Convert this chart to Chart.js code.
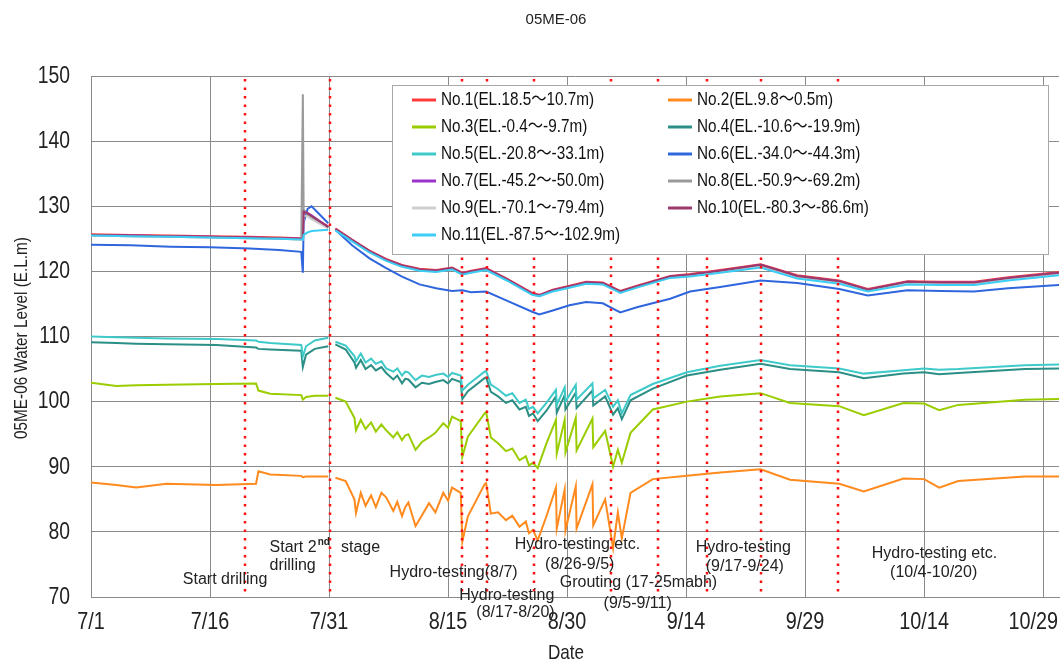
<!DOCTYPE html>
<html>
<head>
<meta charset="utf-8">
<script src="https://cdn.jsdelivr.net/npm/chart.js@4"></script>
<style>
  html, body { margin: 0; padding: 0; background: #fff; }
</style>
</head>
<body>
<canvas id="graf" width="1062" height="665"></canvas>
<script>
// osa x: dny od 7/1
const tickDays = [0, 15, 30, 45, 60, 75, 90, 105, 120];
const tickLabels = ['7/1', '7/16', '7/31', '8/15', '8/30', '9/14', '9/29', '10/14', '10/29'];
const yTicks = [70, 80, 90, 100, 110, 120, 130, 140, 150];

// svislé tečkované čáry (události)
const eventDays = [19.4, 30.1, 46.8, 49.9, 55.8, 65.6, 71.4, 77.6, 84.5, 94.2];

const labels = [
  'No.1(EL.18.5～10.7m)', 'No.2(EL.9.8～0.5m)', 'No.3(EL.-0.4～-9.7m)',
  'No.4(EL.-10.6～-19.9m)', 'No.5(EL.-20.8～-33.1m)', 'No.6(EL.-34.0～-44.3m)',
  'No.7(EL.-45.2～-50.0m)', 'No.8(EL.-50.9～-69.2m)', 'No.9(EL.-70.1～-79.4m)',
  'No.10(EL.-80.3～-86.6m)', 'No.11(EL.-87.5～-102.9m)'
];
const colors = ['#ff3b3b', '#ff8a1e', '#9acd00', '#2b8f86', '#3fcaca', '#2f66dd',
  '#9b33c8', '#9a9a9a', '#cfcfcf', '#9a3a6a', '#3ccdf5'];

// horní skupina (No.1, 6, 7, 8, 9, 10, 11)
const daysA = [0, 5, 10, 15, 20,  23.7, 26.5, 26.7, 26.8, 27.3,  27.8, 29.9, 30.3, 30.8, 32.9,
  35.1, 37.2, 39.2, 41.4, 43.5,  45.5, 46.8, 47.9, 49.8, 52.4,  55.6, 56.5, 58.2, 60.3, 62.4,
  64.5, 66.7, 68.8, 73, 75.5,  79.3, 84.4, 89, 94.3, 97.9,  102.9, 107.1, 111.3, 115.6, 122];

const no10 = [125.6, 125.5, 125.4, 125.3, 125.2,  125.1, 125.0, 125.0, 129.2, 128.9,  128.5, 126.8, null, 126.5, 124.8,
  123.1, 121.8, 120.9, 120.3, 120.1,  120.5, 119.7, 120.0, 120.4, 118.8,  116.6, 116.3, 117.1, 117.7, 118.3,
  118.2, 116.9, 117.7, 119.2, 119.5,  120.1, 121.0, 119.3, 118.5, 117.2,  118.4, 118.3, 118.3, 119.0, 119.8];
const no1 = [125.7, 125.6, 125.5, 125.4, 125.3,  125.2, 125.1, 125.1, 129.0, 128.8,  128.4, 126.9, null, 126.6, 124.9,
  123.2, 121.9, 121.0, 120.4, 120.2,  120.6, 119.8, 120.1, 120.5, 118.9,  116.7, 116.4, 117.2, 117.8, 118.4,
  118.3, 117.0, 117.8, 119.3, 119.6,  120.2, 121.1, 119.4, 118.6, 117.3,  118.5, 118.4, 118.4, 119.1, 119.9];
const no7 = [125.6, 125.5, 125.4, 125.3, 125.2,  125.1, 125.0, 125.0, 129.3, 129.0,  128.6, 126.8, null, 126.5, 124.8,
  123.1, 121.8, 120.9, 120.3, 120.1,  120.5, 119.7, 120.0, 120.4, 118.8,  116.6, 116.3, 117.1, 117.7, 118.3,
  118.2, 116.9, 117.7, 119.2, 119.5,  120.1, 121.0, 119.3, 118.5, 117.2,  118.4, 118.3, 118.3, 119.0, 119.8];
const no8 = [125.5, 125.4, 125.3, 125.2, 125.1,  125.0, 124.9, 147.2, 129.5, 128.7,  128.3, 126.7, null, 126.4, 124.7,
  123.0, 121.7, 120.8, 120.2, 120.0,  120.4, 119.6, 119.9, 120.3, 118.7,  116.5, 116.2, 117.0, 117.6, 118.2,
  118.1, 116.8, 117.6, 119.1, 119.4,  120.0, 120.9, 119.2, 118.4, 117.1,  118.3, 118.2, 118.2, 118.9, 119.7];
const no9 = [125.5, 125.4, 125.3, 125.2, 125.1,  125.0, 124.9, 124.9, 128.6, 128.4,  128.0, 126.6, null, 126.4, 124.7,
  123.0, 121.7, 120.8, 120.2, 120.0,  120.4, 119.6, 119.9, 120.3, 118.7,  116.5, 116.2, 117.0, 117.6, 118.2,
  118.1, 116.8, 117.6, 119.1, 119.4,  120.0, 120.9, 119.2, 118.4, 117.1,  118.3, 118.2, 118.2, 118.9, 119.7];
const no11 = [125.5, 125.4, 125.3, 125.2, 125.1,  125.0, 124.9, 124.9, 125.6, 126.0,  126.2, 126.4, null, 126.3, 124.6,
  122.9, 121.6, 120.7, 120.1, 119.9,  120.3, 119.5, 119.8, 120.2, 118.6,  116.4, 116.2, 116.9, 117.5, 118.1,
  118.0, 116.7, 117.5, 119.0, 119.2,  119.8, 120.6, 118.9, 118.1, 116.9,  118.0, 117.9, 117.9, 118.6, 119.4];
const no6 = [124.1, 124.0, 123.8, 123.7, 123.5,  123.3, 123.0, 119.8, 127.5, 129.6,  130.0, 127.4, null, 126.4, 124.0,
  122.0, 120.5, 119.2, 118.0, 117.4,  117.0, 117.1, 116.8, 116.9, 115.5,  113.8, 113.4, 114.0, 114.8, 115.3,
  115.1, 113.7, 114.5, 115.8, 116.9,  117.6, 118.6, 118.2, 117.3, 116.3,  117.1, 117.0, 116.9, 117.4, 117.9];

// spodní skupiny (No.2, 3, 4, 5)
const daysB = [0, 3.2, 5.7, 9.5, 15.8,  20.8, 21.1, 22.6, 26.5, 26.7,  27.1, 28.2, 29.9, 30.3,
  30.8, 32.1, 33.2, 33.4, 34.0,  34.6, 35.3, 35.9, 36.6, 37.2,  38.1, 38.6, 39.2, 39.6, 40.0,
  40.9, 41.7, 42.6, 43.4, 44.4,  45.0, 45.5, 46.6, 46.8, 47.5,  49.6, 49.8, 50.4, 51.3, 52.3,
  53.1, 54.0, 54.8, 55.2, 55.7,  56.3, 57.4, 58.6, 58.7, 59.7,  59.8, 61.1, 61.2, 63.2, 63.3,
  64.8, 65.8, 66.4, 66.9, 68.0,  70.8, 75.1, 79.3, 84.4, 88.1,  94.3, 97.4, 102.4, 105.0, 106.9,
  109.3, 117.7, 122];

const no2 = [87.6, 87.2, 86.8, 87.4, 87.2,  87.4, 89.3, 88.8, 88.6, 88.4,  88.5, 88.5, 88.5, null,
  88.3, 87.8, 85.0, 82.9, 86.0,  84.0, 85.6, 83.8, 86.0, 85.3,  83.2, 84.6, 82.4, 83.8, 84.5,
  80.9, 82.5, 84.4, 83.0, 86.0,  84.8, 86.8, 86.0, 78.5, 82.4,  87.3, 87.5, 82.8, 83.0, 81.8,
  82.5, 80.8, 81.6, 79.8, 80.3,  78.7, 82.4, 86.8, 80.5, 86.5,  80.2, 87.0, 80.5, 87.3, 81.0,
  85.0, 77.5, 83.0, 79.0, 86.0,  88.1, 88.6, 89.1, 89.6, 88.0,  87.4, 86.2, 88.2, 88.1, 86.8,
  87.8, 88.5, 88.5];
const no3 = [102.9, 102.4, 102.5, 102.6, 102.7,  102.8, 101.7, 101.2, 101.0, 100.3,  100.7, 100.9, 100.9, null,
  100.6, 100.0, 97.5, 95.6, 97.2,  95.8, 96.8, 95.4, 96.5, 95.6,  94.5, 95.3, 94.1, 94.8, 95.0,
  92.6, 93.8, 94.5, 95.2, 96.7,  96.0, 97.7, 97.0, 91.5, 94.6,  98.2, 98.4, 94.5, 93.6, 92.4,
  92.8, 91.0, 91.6, 90.2, 90.6,  89.8, 93.6, 97.2, 92.0, 97.2,  92.2, 97.5, 92.5, 97.4, 93.0,
  95.5, 90.0, 92.6, 90.6, 95.2,  98.8, 100.0, 100.8, 101.3, 99.8,  99.3, 97.9, 99.8, 99.7, 98.7,
  99.5, 100.3, 100.4];
const no4 = [109.1, 109.0, 108.9, 108.8, 108.7,  108.3, 108.1, 108.0, 107.8, 105.3,  107.2, 108.1, 108.5, null,
  108.8, 108.0, 106.0, 105.2, 106.4,  105.0, 105.6, 104.8, 105.3, 104.4,  103.4, 104.0, 102.8, 103.5, 103.4,
  102.2, 102.9, 102.7, 103.0, 103.3,  102.8, 103.5, 103.0, 100.4, 101.6,  103.6, 103.7, 101.5, 100.8, 99.8,
  100.2, 98.8, 99.2, 97.8, 98.2,  97.0, 98.6, 100.8, 98.3, 101.0,  98.8, 101.4, 99.0, 101.7, 99.4,
  100.8, 98.0, 99.0, 97.3, 100.2,  102.0, 104.0, 104.9, 105.8, 105.0,  104.5, 103.6, 104.3, 104.5, 104.2,
  104.4, 105.0, 105.1];
const no5 = [110.0, 109.9, 109.8, 109.7, 109.6,  109.4, 109.2, 109.0, 108.7, 106.9,  108.5, 109.4, 109.8, null,
  109.2, 108.6, 107.0, 106.2, 107.4,  106.0, 106.6, 105.8, 106.2, 105.1,  104.6, 105.1, 104.0, 104.6, 104.5,
  103.3, 104.0, 103.8, 104.1, 104.3,  103.8, 104.4, 104.0, 101.7, 102.6,  104.6, 104.7, 102.6, 101.9, 100.9,
  101.3, 99.8, 100.3, 98.9, 99.2,  98.2, 99.8, 101.8, 99.5, 102.2,  100.0, 102.6, 100.3, 102.8, 100.5,
  101.8, 99.2, 100.2, 98.2, 101.0,  102.7, 104.5, 105.5, 106.4, 105.6,  105.1, 104.3, 104.8, 105.1, 104.9,
  105.0, 105.6, 105.7];

// popisky v grafu (den, hladina)
const notes = [
  { t: 'Start drilling', d: 16.9, v: 72.7, a: 'center' },
  { t: 'Start 2', d: 22.5, v: 77.6, a: 'left', sup: 'nd' },
  { t: 'stage', d: 31.5, v: 77.6, a: 'left' },
  { t: 'drilling', d: 22.5, v: 74.8, a: 'left' },
  { t: 'Hydro-testing(8/7)', d: 45.7, v: 73.7, a: 'center' },
  { t: 'Hydro-testing', d: 52.4, v: 70.2, a: 'center' },
  { t: '(8/17-8/20)', d: 53.5, v: 67.6, a: 'center' },
  { t: 'Hydro-testing etc.', d: 61.3, v: 78.0, a: 'center' },
  { t: '(8/26-9/5)', d: 61.6, v: 75.0, a: 'center' },
  { t: 'Grouting (17-25mabh)', d: 69.0, v: 72.2, a: 'center' },
  { t: '(9/5-9/11)', d: 68.9, v: 69.0, a: 'center' },
  { t: 'Hydro-testing', d: 82.2, v: 77.6, a: 'center' },
  { t: '(9/17-9/24)', d: 82.4, v: 74.7, a: 'center' },
  { t: 'Hydro-testing etc.', d: 106.3, v: 76.7, a: 'center' },
  { t: '(10/4-10/20)', d: 106.2, v: 73.7, a: 'center' }
];

const FONT = "'Liberation Sans', 'Noto Sans CJK JP', sans-serif";

function body(days, vals) {
  return days.map((d, i) => ({ x: d, y: vals[i] }));
}
const series = [
  body(daysA, no1), body(daysB, no2), body(daysB, no3), body(daysB, no4), body(daysB, no5),
  body(daysA, no6), body(daysA, no7), body(daysA, no8), body(daysA, no9), body(daysA, no10),
  body(daysA, no11)
];

const datasets = series.map((data, i) => ({
  label: labels[i],
  data: data,
  borderColor: colors[i],
  backgroundColor: colors[i],
  borderWidth: 2,
  pointRadius: 0,
  spanGaps: false,
  tension: 0,
  order: 10 - i
}));

// zúžený text (písmo grafu je úzké a vysoké)
function uzkyText(ctx, text, x, y, sx, sy) {
  ctx.save();
  ctx.translate(x, y);
  ctx.scale(sx, sy);
  ctx.fillText(text, 0, 0);
  ctx.restore();
}

// kreslení titulků, událostí, poznámek a legendy
const kresba = {
  id: 'kresba',
  afterDatasetsDraw(chart) {
    const ctx = chart.ctx;
    const area = chart.chartArea;
    const sx = chart.scales.x;
    ctx.save();
    ctx.strokeStyle = '#ff1010';
    ctx.lineWidth = 2.5;
    ctx.setLineDash([2.5, 6]);
    eventDays.forEach(d => {
      const px = Math.round(sx.getPixelForValue(d));
      ctx.beginPath();
      ctx.moveTo(px, area.top + 3);
      ctx.lineTo(px, area.bottom);
      ctx.stroke();
    });
    ctx.restore();
  },
  afterDraw(chart) {
    const ctx = chart.ctx;
    const sx = chart.scales.x, sy = chart.scales.y;
    ctx.save();
    ctx.fillStyle = '#222';
    ctx.textBaseline = 'middle';

    // titulek
    ctx.font = '15px ' + FONT;
    ctx.textAlign = 'center';
    ctx.fillText('05ME-06', 556, 20);

    // popisky osy x
    ctx.font = '22px ' + FONT;
    tickDays.forEach((d, i) => {
      let px = sx.getPixelForValue(d);
      const w = ctx.measureText(tickLabels[i]).width * 0.9;
      if (px + w / 2 > 1058) px = 1058 - w / 2;
      uzkyText(ctx, tickLabels[i], px, 622, 0.9, 1.12);
    });
    // popisky osy y
    ctx.textAlign = 'right';
    yTicks.forEach(v => {
      uzkyText(ctx, String(v), 70, sy.getPixelForValue(v), 0.88, 1.12);
    });

    // názvy os
    ctx.textAlign = 'center';
    ctx.font = '18px ' + FONT;
    uzkyText(ctx, 'Date', 566, 654, 0.95, 1.1);
    ctx.save();
    ctx.translate(22, 338);
    ctx.rotate(-Math.PI / 2);
    ctx.font = '17px ' + FONT;
    uzkyText(ctx, '05ME-06 Water Level (E.L.m)', 0, 0, 0.9, 1.1);
    ctx.restore();

    // poznámky
    ctx.font = '16px ' + FONT;
    notes.forEach(n => {
      const px = sx.getPixelForValue(n.d);
      const py = sy.getPixelForValue(n.v);
      ctx.textAlign = n.a;
      ctx.fillText(n.t, px, py);
      if (n.sup) {
        const w = ctx.measureText(n.t).width;
        ctx.font = 'bold 10px ' + FONT;
        ctx.textAlign = 'left';
        ctx.fillText(n.sup, px + w + 1, py - 5);
        ctx.font = '16px ' + FONT;
      }
    });

    // legenda
    const lx = 392, ly = 85, lw = 656, lh = 169;
    ctx.fillStyle = '#fff';
    ctx.fillRect(lx, ly, lw, lh);
    ctx.strokeStyle = '#a8a8a8';
    ctx.lineWidth = 1;
    ctx.setLineDash([]);
    ctx.strokeRect(lx + 0.5, ly + 0.5, lw, lh);
    ctx.font = '17px ' + FONT;
    ctx.textAlign = 'left';
    chart.data.datasets.forEach((ds, i) => {
      const col = i % 2, row = Math.floor(i / 2);
      const x0 = lx + 20 + col * 256;
      const y0 = ly + 15 + row * 27;
      ctx.strokeStyle = ds.borderColor;
      ctx.lineWidth = 3;
      ctx.beginPath();
      ctx.moveTo(x0, y0);
      ctx.lineTo(x0 + 24, y0);
      ctx.stroke();
      ctx.fillStyle = '#111';
      uzkyText(ctx, ds.label, x0 + 29, y0, 0.9, 1.08);
    });
    ctx.restore();
  }
};

new Chart(document.getElementById('graf').getContext('2d'), {
  type: 'line',
  data: { datasets: datasets },
  options: {
    responsive: false,
    animation: false,
    devicePixelRatio: 1,
    layout: { padding: { left: 0, top: 76, right: 3, bottom: 0 } },
    plugins: { legend: { display: false }, tooltip: { enabled: false }, title: { display: false } },
    scales: {
      x: {
        type: 'linear',
        min: 0,
        max: 122,
        afterBuildTicks: s => { s.ticks = tickDays.map(v => ({ value: v })); },
        afterFit: s => { s.height = 68; s.paddingLeft = 0; s.paddingRight = 0; },
        ticks: { display: false },
        grid: { color: '#8a8a8a', drawTicks: false },
        border: { color: '#8a8a8a' }
      },
      y: {
        min: 70,
        max: 150,
        afterBuildTicks: s => { s.ticks = yTicks.map(v => ({ value: v })); },
        afterFit: s => { s.width = 91; s.paddingTop = 0; s.paddingBottom = 0; },
        ticks: { display: false },
        grid: { color: '#8a8a8a', drawTicks: false },
        border: { color: '#8a8a8a' }
      }
    }
  },
  plugins: [kresba]
});
</script>
</body>
</html>
